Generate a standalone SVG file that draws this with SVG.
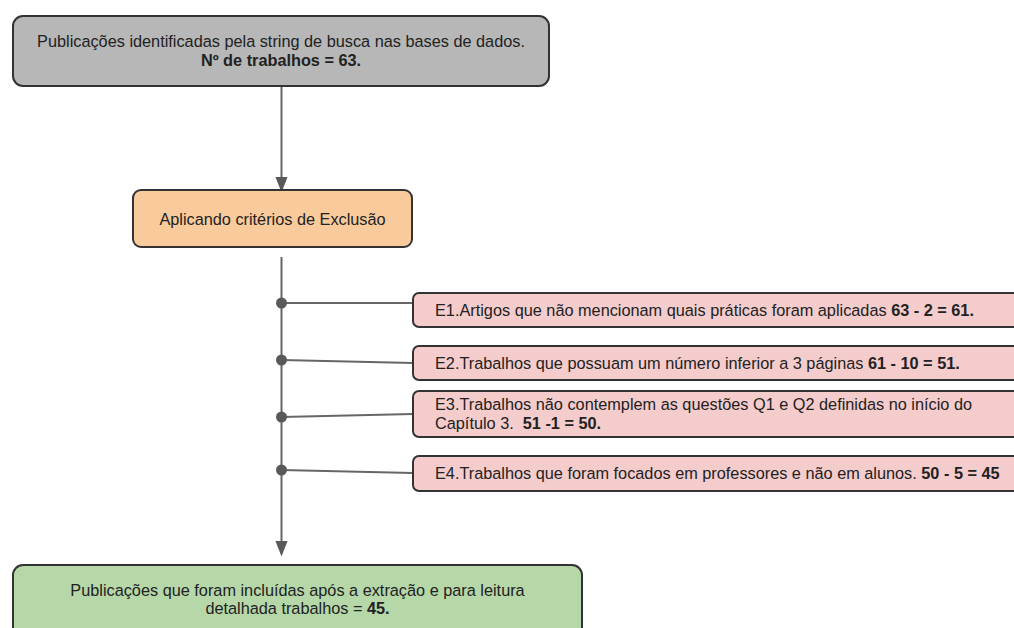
<svg xmlns="http://www.w3.org/2000/svg" width="1014" height="628" viewBox="0 0 1014 628">
<style>
text{font-family:"Liberation Sans",Arial,sans-serif;font-size:16.3px;fill:#222}
.b{font-weight:bold}
.box{stroke:#333;stroke-width:2}
.ln{stroke:#666;stroke-width:2;fill:none}
.dot{fill:#595959}
</style>
<defs>
<marker id="arr" markerWidth="16" markerHeight="20" refX="14" refY="7" orient="auto" markerUnits="userSpaceOnUse" viewBox="0 0 18 14">
<path d="M0,0 L18,7 L0,14 Z" fill="#595959"/>
</marker>
</defs>
<rect width="1014" height="628" fill="#fff"/>
<g id="connectors">
<line class="ln" x1="281.5" y1="86" x2="281.5" y2="189" marker-end="url(#arr)"/>
<line class="ln" x1="281.5" y1="257" x2="281.5" y2="553" marker-end="url(#arr)"/>
<line class="ln" x1="281.5" y1="303" x2="413" y2="303"/>
<line class="ln" x1="281.5" y1="360" x2="413" y2="363"/>
<line class="ln" x1="281.5" y1="417" x2="413" y2="414"/>
<line class="ln" x1="281.5" y1="470" x2="413" y2="473"/>
<circle class="dot" cx="281.5" cy="303" r="5.5"/>
<circle class="dot" cx="281.5" cy="360" r="5.5"/>
<circle class="dot" cx="281.5" cy="417" r="5.5"/>
<circle class="dot" cx="281.5" cy="470" r="5.5"/>
</g>
<g id="n-start">
<rect class="box" x="13" y="16" width="536" height="70" rx="10" fill="#b7b7b7"/>
<text x="281" y="47" text-anchor="middle">Publicações identificadas pela string de busca nas bases de dados.</text>
<text x="281" y="66" text-anchor="middle" class="b">Nº de trabalhos = 63.</text>
</g>
<g id="n-excl">
<rect class="box" x="133" y="190" width="279" height="57" rx="8" fill="#f9cb9c"/>
<text x="272.5" y="225" text-anchor="middle">Aplicando critérios de Exclusão</text>
</g>
<g id="n-e1">
<rect class="box" x="413" y="293" width="620" height="34" rx="6" fill="#f4cccc"/>
<text x="435" y="316">E1.Artigos que não mencionam quais práticas foram aplicadas <tspan class="b">63 - 2 = 61.</tspan></text>
</g>
<g id="n-e2">
<rect class="box" x="413" y="346" width="620" height="34" rx="6" fill="#f4cccc"/>
<text x="435" y="369">E2.Trabalhos que possuam um número inferior a 3 páginas <tspan class="b">61 - 10 = 51.</tspan></text>
</g>
<g id="n-e3">
<rect class="box" x="413" y="391" width="620" height="46" rx="6" fill="#f4cccc"/>
<text x="435" y="410">E3.Trabalhos não contemplem as questões Q1 e Q2 definidas no início do</text>
<text x="435" y="429" xml:space="preserve">Capítulo 3.  <tspan class="b">51 -1 = 50.</tspan></text>
</g>
<g id="n-e4">
<rect class="box" x="413" y="456" width="620" height="35" rx="6" fill="#f4cccc"/>
<text x="435" y="479">E4.Trabalhos que foram focados em professores e não em alunos. <tspan class="b">50 - 5 = 45</tspan></text>
</g>
<g id="n-end">
<rect class="box" x="13" y="565" width="569" height="80" rx="10" fill="#b6d7a8"/>
<text x="297.5" y="596" text-anchor="middle">Publicações que foram incluídas após a extração e para leitura</text>
<text x="297.5" y="614" text-anchor="middle">detalhada trabalhos = <tspan class="b">45.</tspan></text>
</g>
</svg>
